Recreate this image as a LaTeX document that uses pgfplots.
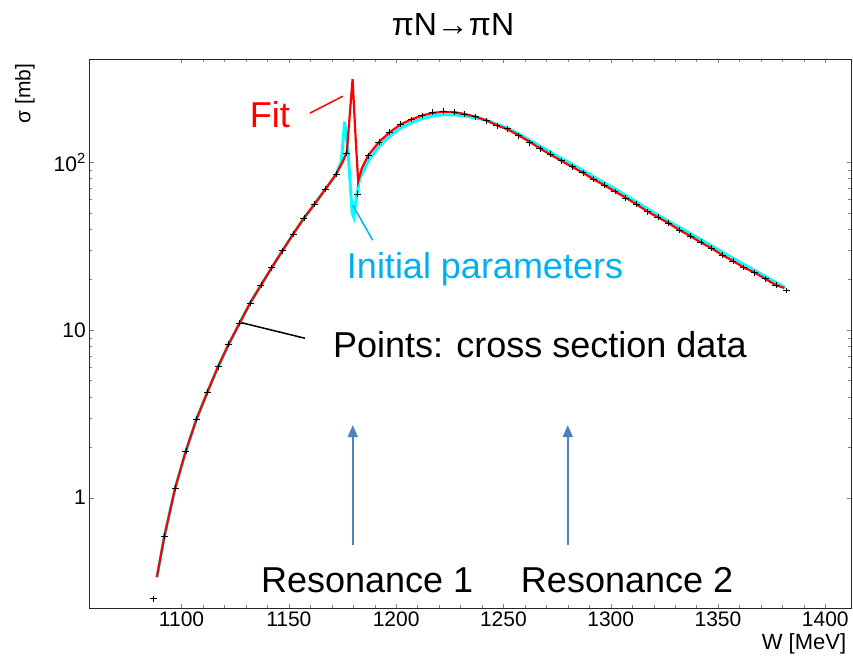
\documentclass[border=0pt]{standalone}
\usepackage{fontspec}
\setmainfont{Liberation Sans}
\usepackage{pgfplots}
\pgfplotsset{compat=1.18}
\usetikzlibrary{arrows.meta}
\definecolor{fitred}{HTML}{FF0000}
\definecolor{initcyan}{HTML}{00FFFF}
\definecolor{notecyan}{HTML}{00B0F0}
\definecolor{arrowblue}{HTML}{4F81BD}
\newcommand{\notefont}{\fontsize{36}{40}\selectfont}

\begin{document}
\begin{tikzpicture}
\begin{axis}[
  scale only axis, width=761.7pt, height=549pt,
  xmin=1057, xmax=1412,
  ymode=log, ymin=0.22, ymax=413,
  clip mode=individual,
  axis line style={line width=0.8pt, black!85},
  tick align=inside,
  xtick={1100,1150,...,1400}, minor x tick num=4,
  ytick={1,10,100}, yticklabels={1,10,10\textsuperscript{2}},
  log ticks with fixed point,
  /pgf/number format/assume math mode=true,
  /pgf/number format/1000 sep={},
  ticklabel style={font=\fontsize{21}{21}\selectfont},
]

% initial parameters
\addplot[initcyan, line width=3pt] coordinates {
  (1088.5,0.336) (1092,0.59) (1097,1.14) (1102,1.90) (1107,2.95) (1112,4.25)
  (1117,6.04) (1122,8.25) (1127,10.96) (1132,14.5) (1137,18.5) (1142,23.5)
  (1147,29.7) (1152,37.3) (1157,46.4) (1162,56.4) (1167,69) (1172,84)
  (1174.5,102) (1176,175) (1177.5,120) (1179.5,50) (1180.3,47) (1181.5,62)
  (1183,80) (1185,90) (1187,102) (1192,124) (1197,143) (1202,160) (1207,172)
  (1212,182) (1217,189) (1222,192) (1227,192) (1232,189) (1237,184) (1242,178)
  (1247,168) (1252,160) (1257,148) (1262,136) (1267,125) (1272,115) (1277,105.5)
  (1282,97.5) (1287,89.5) (1292,82) (1297,75.5) (1302,69.5) (1307,63.5)
  (1312,58) (1317,53) (1322,48.5) (1327,44.5) (1332,41) (1337,37.7)
  (1342,34.6) (1347,31.8) (1352,29.2) (1357,26.8) (1362,24.6) (1367,22.7)
  (1372,20.9) (1377,19.2) (1381,18.0)
};

% fit
\addplot[fitred, line width=2.2pt] coordinates {
  (1088.5,0.336) (1092,0.59) (1097,1.14) (1102,1.90) (1107,2.95) (1112,4.25)
  (1117,6.04) (1122,8.25) (1127,10.96) (1132,14.5) (1137,18.5) (1142,23.5)
  (1147,29.7) (1152,37.3) (1157,46.4) (1162,56.4) (1167,69) (1172,85)
  (1175,100) (1177,115) (1178.5,200) (1179.7,313) (1181,150) (1182.3,77)
  (1184,92) (1187,110) (1192,132) (1197,151) (1202,168) (1207,180) (1212,190)
  (1217,197) (1222,200) (1227,199) (1232,194) (1237,187) (1242,178) (1247,166)
  (1252,157) (1257,145) (1262,133) (1267,121) (1272,111) (1277,102) (1282,94)
  (1287,86.7) (1292,79.2) (1297,73) (1302,67) (1307,61.5) (1312,56.2)
  (1317,51) (1322,47) (1327,43.3) (1332,39.5) (1337,36.4) (1342,33.3)
  (1347,30.7) (1352,28) (1357,25.8) (1362,23.6) (1367,22) (1372,20.2)
  (1377,18.5) (1381,17.8)
};

% cross section data
\addplot[black, only marks, mark=-, mark size=3.5pt, line width=0.8pt,
  error bars/.cd, y dir=both, y explicit relative, error mark=-,
  error bar style={line width=0.5pt},
  error mark options={mark size=2.5pt, line width=0.6pt}]
  table[x=W, y=sigma, y error expr=0.006] {
W sigma
1087 0.25
1092 0.59
1097 1.14
1102 1.90
1107 2.95
1112 4.25
1117 6.04
1122 8.25
1127 10.96
1132 14.5
1137 18.5
1142 23.5
1147 29.7
1152 37.3
1157 46.4
1162 56.4
1167 69
1172 84.8
1177 113
1182 64.5
1187 109.6
1192 131.6
1197 151
1202 169
1207 180
1212 190
1217 199
1222 202
1227 199
1232 193
1237 187
1242 177
1247 165
1252 158.6
1257 144
1262 131
1267 120.5
1272 111.6
1277 102
1282 94.3
1287 86.7
1292 79.2
1297 73.2
1302 67
1307 61.3
1312 56.2
1317 50.7
1322 47
1327 43.3
1332 39.5
1337 36.4
1342 33.3
1347 30.7
1352 28
1357 25.8
1362 23.6
1367 22
1372 20.2
1377 18.5
1382 17.2
};

% titles
\node[anchor=base, font=\fontsize{32}{32}\selectfont] at (axis cs:1226.5,566.6) {πN→πN};
\node[anchor=base east, font=\fontsize{22}{22}\selectfont] at (axis cs:1411.4,0.125) {W [MeV]};
\node[anchor=east, rotate=90, font=\fontsize{21}{21}\selectfont] at (axis cs:1027,407) {σ [mb]};

% annotations
\node[anchor=base west, inner sep=0pt, text=fitred, font=\notefont] at (axis cs:1131.8,160.2) {Fit};
\draw[fitred, line width=1.5pt] (axis cs:1159.8,196.4) -- (axis cs:1175.2,247.8);
\node[anchor=base west, inner sep=0pt, text=notecyan, font=\notefont] at (axis cs:1177.0,20.4) {Initial parameters};
\draw[notecyan, line width=1.5pt] (axis cs:1179.8,55.5) -- (axis cs:1189.1,34.3);
\node[anchor=base west, inner sep=0pt, font=\notefont] at (axis cs:1170.5,6.81) {Points: cross section data};
\draw[black, line width=1.5pt] (axis cs:1128.0,11.05) -- (axis cs:1157.5,8.93);
\draw[arrowblue, line width=1.5pt, -{Triangle[length=12pt, width=10pt]}] (axis cs:1179.8,0.522) -- (axis cs:1179.8,2.71);
\draw[arrowblue, line width=1.5pt, -{Triangle[length=12pt, width=10pt]}] (axis cs:1280.0,0.522) -- (axis cs:1280.0,2.71);
\node[anchor=base west, inner sep=0pt, font=\notefont] at (axis cs:1137.0,0.274) {Resonance 1};
\node[anchor=base west, inner sep=0pt, font=\notefont] at (axis cs:1258.1,0.274) {Resonance 2};
\end{axis}
\path (-89.3pt,-50pt) rectangle (763.7pt,608pt);
\end{tikzpicture}
\end{document}
